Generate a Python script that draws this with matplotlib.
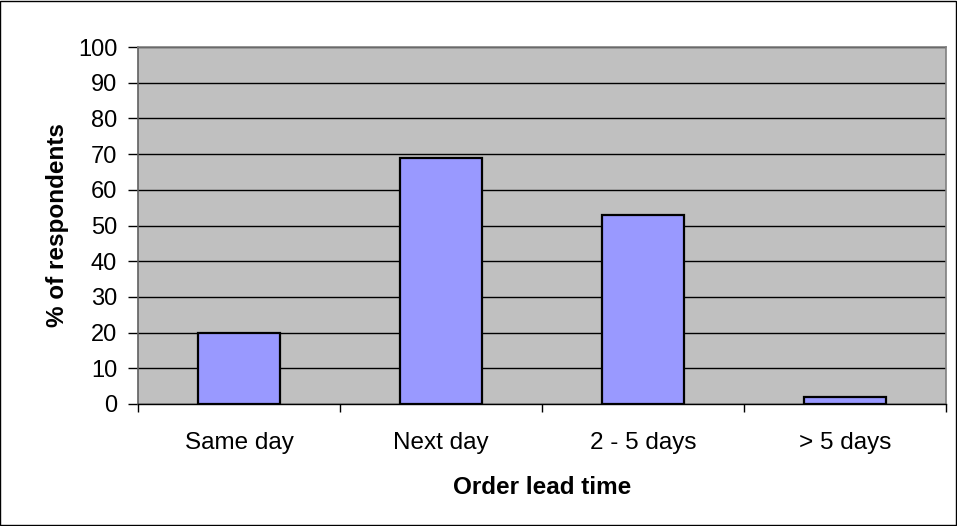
import matplotlib
matplotlib.use("Agg")
import matplotlib.pyplot as plt
from matplotlib.patches import Rectangle

categories = ["Same day", "Next day", "2 - 5 days", "> 5 days"]
respondents_pct = [20, 69, 53, 2]
y_ticks = list(range(0, 101, 10))

plt.rcParams["font.family"] = ["Liberation Sans", "DejaVu Sans"]

fig = plt.figure(figsize=(9.57, 5.26), dpi=100)
ax = fig.add_axes([138 / 957, 1 - 404 / 526, 808 / 957, 357 / 526])
ax.set_facecolor("#C0C0C0")

x = list(range(len(categories)))
ax.bar(x, respondents_pct, width=0.41, color="#9999FF", edgecolor="black",
       linewidth=1.6, zorder=3)

ax.set_xlim(-0.5, len(categories) - 0.5)
ax.set_ylim(0, 100)
ax.set_yticks(y_ticks)
ax.yaxis.grid(True, color="black", linewidth=1.0, zorder=1)
ax.set_axisbelow(True)

# category labels centred, tick marks between categories
ax.set_xticks(x)
ax.set_xticklabels(categories, fontsize=17.5)
ax.tick_params(axis="x", length=0, pad=20)
ax.set_xticks([i + 0.5 for i in range(-1, len(categories))], minor=True)
ax.tick_params(axis="x", which="minor", length=6, width=1, color="black")
ax.tick_params(axis="y", labelsize=17, length=7, width=1, pad=8)

for side in ["top", "right"]:
    ax.spines[side].set_color("#808080")
    ax.spines[side].set_linewidth(1.2)
ax.spines["left"].set_color("#606060")
ax.spines["left"].set_linewidth(1.2)
ax.spines["bottom"].set_color("black")
ax.spines["bottom"].set_linewidth(1.0)

ax.set_xlabel("Order lead time", fontsize=17.5, fontweight="bold", labelpad=16)
ax.set_ylabel("% of respondents", fontsize=17.5, fontweight="bold", labelpad=6.5)

fig.patches.append(Rectangle((0.0005, 0.001), 0.998, 0.997, transform=fig.transFigure,
                             fill=False, edgecolor="black", linewidth=1.0))

fig.savefig("out.png", dpi=100)
